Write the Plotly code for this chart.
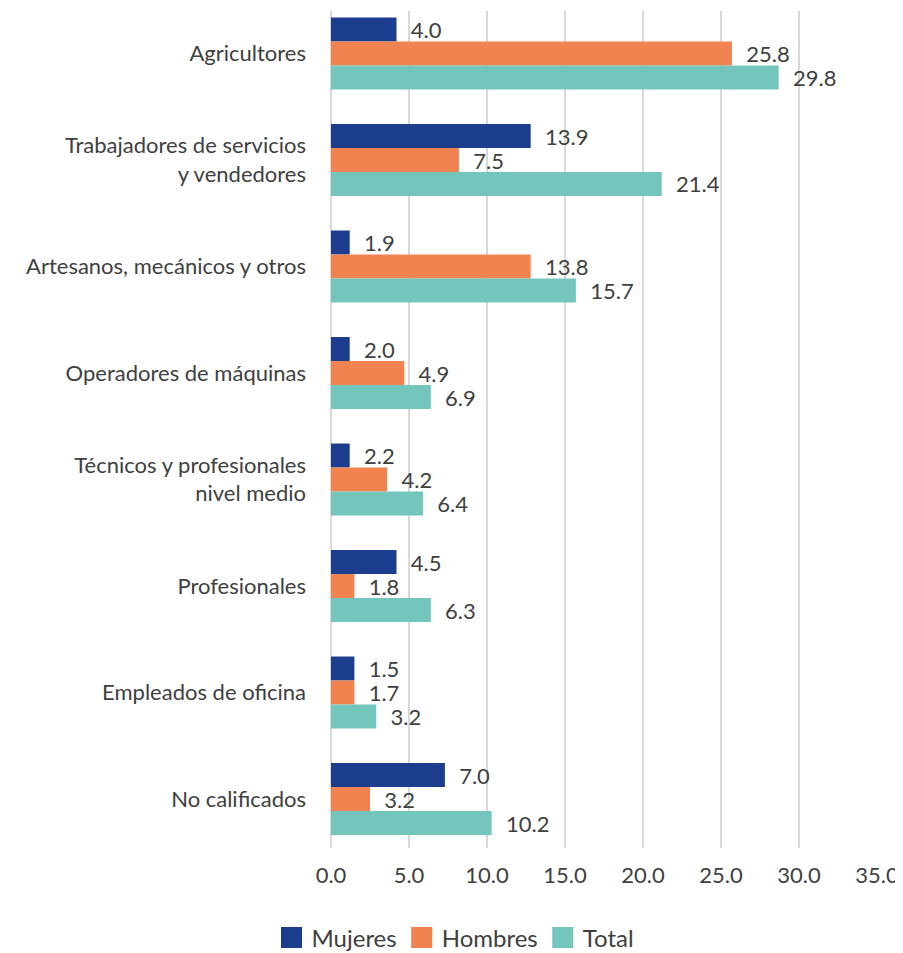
import plotly.graph_objects as go

categories = [
    "Agricultores",
    "Trabajadores de servicios<br>y vendedores",
    "Artesanos, mecánicos y otros",
    "Operadores de máquinas",
    "Técnicos y profesionales<br>nivel medio",
    "Profesionales",
    "Empleados de oficina",
    "No calificados",
]

series_names = ["Mujeres", "Hombres", "Total"]

# bar lengths as drawn in the reference
mujeres = [4.2, 12.8, 1.2, 1.2, 1.2, 4.2, 1.5, 7.3]
hombres = [25.7, 8.2, 12.8, 4.7, 3.6, 1.5, 1.5, 2.5]
total = [28.7, 21.2, 15.7, 6.4, 5.9, 6.4, 2.9, 10.3]

# printed data labels
mujeres_lbl = ["4.0", "13.9", "1.9", "2.0", "2.2", "4.5", "1.5", "7.0"]
hombres_lbl = ["25.8", "7.5", "13.8", "4.9", "4.2", "1.8", "1.7", "3.2"]
total_lbl = ["29.8", "21.4", "15.7", "6.9", "6.4", "6.3", "3.2", "10.2"]

tick_vals = [0, 5, 10, 15, 20, 25, 30, 35]

colors = ["#1c3d8e", "#f08350", "#74c6bd"]
FONT = "Lato, 'Open Sans', sans-serif"
TXT = "#404040"
PAD = "\u00a0\u00a0"

fig = go.Figure()
for name, vals, lbls, col in zip(series_names, [mujeres, hombres, total],
                                 [mujeres_lbl, hombres_lbl, total_lbl], colors):
    fig.add_trace(go.Bar(
        name=name, y=categories, x=vals, orientation="h",
        marker=dict(color=col, line=dict(width=0)),
        text=[PAD + s for s in lbls], textposition="outside",
        textfont=dict(family=FONT, size=22, color=TXT),
        constraintext="none", cliponaxis=False, showlegend=False,
        hoverinfo="skip",
    ))

# legend entries
for name, col in zip(series_names, colors):
    fig.add_trace(go.Scatter(
        name=name, x=[None], y=[None], mode="markers",
        marker=dict(symbol="square", size=16, color=col,
                    line=dict(color=col, width=5)),
        showlegend=True,
    ))

# the page body adds an 8px offset; figure size compensates for it
fig.update_layout(
    width=895, height=945,
    margin=dict(l=323, r=26, t=3, b=105, autoexpand=False),
    paper_bgcolor="white", plot_bgcolor="white",
    barmode="group", bargap=0.324, bargroupgap=0,
    font=dict(family=FONT, size=22, color=TXT),
    xaxis=dict(
        range=[0, 35], tickvals=tick_vals, tickformat=".1f",
        showgrid=True, gridcolor="#d9d9d9", gridwidth=2,
        zeroline=True, zerolinecolor="#d9d9d9", zerolinewidth=2,
        showline=False, ticks="", ticklabelstandoff=12,
        tickfont=dict(family=FONT, size=22, color=TXT),
        automargin=False, fixedrange=True,
    ),
    yaxis=dict(
        type="category", categoryorder="array", categoryarray=categories,
        range=[7.46, -0.399], showgrid=False, zeroline=False, showline=False,
        ticks="", ticklabelstandoff=24,
        tickfont=dict(family=FONT, size=22, color=TXT),
        automargin=False, fixedrange=True,
    ),
    legend=dict(
        orientation="h", xref="container", yref="container",
        x=0.5, xanchor="center", y=0.016, yanchor="middle",
        font=dict(family=FONT, size=24, color=TXT),
        itemclick=False, itemdoubleclick=False, tracegroupgap=0,
        bgcolor="rgba(0,0,0,0)",
    ),
    showlegend=True,
)

fig.write_html("out.html")
